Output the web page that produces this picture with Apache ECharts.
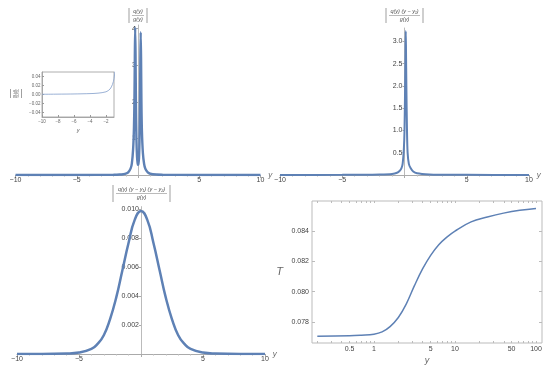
<!DOCTYPE html>
<html><head><meta charset="utf-8">
<script src="https://cdn.jsdelivr.net/npm/echarts@6/dist/echarts.min.js"></script>
<style>html,body{margin:0;padding:0;background:#fff}#c{width:550px;height:372px}</style>
</head><body><div id="c"></div>
<script>
// Panel 1: |q(y)/g(y)|
const p1X = [-10,-8,-6,-4,-3,-2,-1.5,-1.2,-1,-0.8,-0.6,-0.5,-0.4,-0.33,-0.29,-0.26,-0.23,-0.2,-0.17,-0.13,-0.08,-0.03,0,0.03,0.08,0.12,0.16,0.19,0.22,0.25,0.28,0.32,0.4,0.5,0.6,0.8,1,1.5,2,3,4,6,8,10];
const p1Y = [0.0005,0.0008,0.0012,0.002,0.003,0.006,0.012,0.022,0.035,0.07,0.18,0.32,0.7,1.3,2.1,3.2,4.03,3.3,2.0,1.0,0.5,0.32,0.28,0.3,0.45,0.9,1.9,3.1,3.9,3.2,2.0,1.2,0.6,0.3,0.17,0.07,0.035,0.012,0.006,0.003,0.002,0.0012,0.0008,0.0005];
const p1Ticks = [1,2,3,4];
const insetYTicks = [-0.04,-0.02,0,0.02,0.04];
// Panel 2: |q(y)(y-y1)/g(y)|
const p2X = [-10,-5,-3,-2,-1,-0.6,-0.4,-0.25,-0.15,-0.05,0,0.05,0.08,0.1,0.12,0.15,0.2,0.25,0.35,0.5,0.7,1,2,3,5,10];
const p2Y = [0.001,0.003,0.006,0.01,0.025,0.05,0.09,0.15,0.25,0.6,1.0,2.0,2.8,3.23,2.8,2.0,1.0,0.5,0.25,0.15,0.08,0.04,0.012,0.006,0.003,0.001];
const p2Ticks = [0.5,1,1.5,2,2.5,3];
// Panel 3: |q(y)(y-y1)(y-y2)/g(y)|
const p3X = [-10,-8,-6,-5,-4,-3.5,-3,-2.5,-2,-1.5,-1,-0.5,0,0.5,1,1.5,2,2.5,3,3.5,4,5,6,8,10];
const p3Y = [0,0,0.00003,0.0001,0.00035,0.0007,0.0013,0.0024,0.0039,0.0058,0.0077,0.0093,0.0099,0.0093,0.0077,0.0058,0.0039,0.0024,0.0013,0.0007,0.00035,0.0001,0.00003,0,0];
const p3Ticks = [0.002,0.004,0.006,0.008,0.010];
// Panel 4: T vs y (log)
const p4X = [0.2,0.5,0.7,1,1.26,1.58,2,2.51,3.16,3.98,5.01,6.31,7.94,10,15.8,25.1,39.8,63.1,100];
const p4Y = [0.07707,0.07709,0.07713,0.0772,0.07735,0.0777,0.0783,0.0792,0.0804,0.0815,0.0824,0.0831,0.0836,0.0840,0.0846,0.08492,0.08518,0.08537,0.08549];
const p4XLabels = [0.5,1,5,10,50,100];
const p4XMinor = [0.2,0.3,0.4,0.5,0.6,0.7,0.8,0.9,1,2,3,4,5,6,7,8,9,10,20,30,40,50,60,70,80,90,100];
const p4YTicks = [0.078,0.080,0.082,0.084];

const zip = (a,b)=>a.map((v,i)=>[v,b[i]]);
const BLUE = '#5E81B5';
const FONT = 'Liberation Sans';
const minus = s => String(s).replace('-', '\u2212');
const lab = {fontSize:7, color:'#444', fontFamily:FONT};
const XMIN = -10, XMAX = 10;

const grids = [
  {left:15.5, top:25, width:245, height:150},
  {left:42, top:72, width:72, height:45, show:true, borderColor:'#999', borderWidth:0.8, backgroundColor:'#fff', z:5},
  {left:280, top:28, width:249, height:147},
  {left:17, top:206.6, width:248, height:147.4},
  {left:312, top:201, width:230, height:142, show:true, borderColor:'#bbb', borderWidth:1}
];

function axX(grid, extra){
  return Object.assign({
    type:'value', gridIndex:grid, min:XMIN, max:XMAX, interval:5,
    axisLine:{onZero:false, lineStyle:{color:'#aaa', width:1}},
    axisTick:{show:true, length:3, lineStyle:{color:'#aaa'}},
    minorTick:{show:true, splitNumber:5, length:1.5, lineStyle:{color:'#bbb'}},
    splitLine:{show:false},
    axisLabel:Object.assign({}, lab, {margin:2, formatter:v=> v===0 ? '' : minus(v)}),
    name:'y', nameLocation:'end', nameGap:3,
    nameTextStyle:{fontSize:8, color:'#666', fontStyle:'italic', fontFamily:FONT}
  }, extra||{});
}
// y axis crossing the x axis at x = 0
function axY(grid, max, ticks, dec){
  const zeroShift = grids[grid].width * (0 - XMIN) / (XMAX - XMIN);
  return {
    type:'value', gridIndex:grid, min:0, max:max, offset:-zeroShift,
    axisLine:{show:true, onZero:true, onZeroAxisIndex:grid, lineStyle:{color:'#bbb', width:1}},
    axisTick:{show:true, length:2, customValues:ticks, lineStyle:{color:'#aaa'}},
    splitLine:{show:false},
    axisLabel:Object.assign({}, lab, {margin:2, customValues:ticks, formatter:v=> v.toFixed(dec)})
  };
}

function absFrac(cx, top, bottom, num, den, halfW, fs){
  const mid = (top+bottom)/2;
  const st = {stroke:'#777', lineWidth:0.7};
  return {type:'group', silent:true, children:[
    {type:'line', shape:{x1:cx-halfW, y1:top, x2:cx-halfW, y2:bottom}, style:st},
    {type:'line', shape:{x1:cx+halfW, y1:top, x2:cx+halfW, y2:bottom}, style:st},
    {type:'line', shape:{x1:cx-halfW+3, y1:mid, x2:cx+halfW-3, y2:mid}, style:{stroke:'#777', lineWidth:0.5}},
    {type:'text', style:{text:num, x:cx, y:mid-0.8, align:'center', verticalAlign:'bottom', fontSize:fs, fontFamily:FONT, fontStyle:'italic', fill:'#555'}},
    {type:'text', style:{text:den, x:cx, y:mid+0.8, align:'center', verticalAlign:'top', fontSize:fs, fontFamily:FONT, fontStyle:'italic', fill:'#555'}}
  ]};
}

const chart = echarts.init(document.getElementById('c'), null, {renderer:'canvas'});
const logLabelFmt = v => { const r = Math.round(v*1000)/1000; return String(r); };

chart.setOption({
  animation:false,
  backgroundColor:'#fff',
  grid:grids,
  xAxis:[
    axX(0),
    {type:'value', gridIndex:1, min:-10, max:-1, interval:2,
      axisLine:{onZero:false, lineStyle:{color:'#999', width:0.8}},
      axisTick:{inside:true, length:2, customValues:[-10,-8,-6,-4,-2], lineStyle:{color:'#999'}},
      splitLine:{show:false},
      axisLabel:{fontSize:4.5, color:'#666', fontFamily:FONT, margin:2, customValues:[-10,-8,-6,-4,-2], formatter:v=>minus(v)},
      name:'y', nameLocation:'middle', nameGap:10,
      nameTextStyle:{fontSize:5.5, color:'#666', fontStyle:'italic', fontFamily:FONT}, z:6},
    axX(2),
    axX(3),
    {type:'log', gridIndex:4, min:0.172, max:118.6, logBase:10,
      axisLine:{show:false},
      axisTick:{inside:true, length:2, customValues:p4XMinor, lineStyle:{color:'#bbb'}},
      splitLine:{show:false}, minorTick:{show:false},
      axisLabel:Object.assign({}, lab, {margin:3, customValues:p4XLabels, formatter:logLabelFmt}),
      name:'y', nameLocation:'middle', nameGap:13,
      nameTextStyle:{fontSize:9, color:'#666', fontStyle:'italic', fontFamily:FONT}},
    {type:'log', gridIndex:4, position:'top', min:0.172, max:118.6, logBase:10,
      axisLine:{show:false},
      axisTick:{inside:true, length:2, customValues:p4XMinor, lineStyle:{color:'#bbb'}},
      splitLine:{show:false}, axisLabel:{show:false}}
  ],
  yAxis:[
    axY(0, 4.1, p1Ticks, 0),
    {type:'value', gridIndex:1, min:-0.05, max:0.05,
      axisLine:{onZero:false, lineStyle:{color:'#999', width:0.8}},
      axisTick:{inside:true, length:2, customValues:insetYTicks, lineStyle:{color:'#999'}},
      splitLine:{show:false},
      axisLabel:{fontSize:4.5, color:'#666', fontFamily:FONT, margin:1.5, customValues:insetYTicks, formatter:v=>minus(v.toFixed(2))}, z:6},
    axY(2, 3.3, p2Ticks, 1),
    axY(3, 0.0102, p3Ticks, 3),
    {type:'value', gridIndex:4, min:0.07662, max:0.08598,
      axisLine:{show:false},
      axisTick:{inside:true, length:3, customValues:p4YTicks, lineStyle:{color:'#bbb'}},
      splitLine:{show:false},
      axisLabel:Object.assign({}, lab, {margin:3, customValues:p4YTicks, formatter:v=>v.toFixed(3)}),
      name:'T', nameLocation:'middle', nameRotate:0, nameGap:29,
      nameTextStyle:{fontSize:11, color:'#666', fontStyle:'italic', fontFamily:FONT}},
    {type:'value', gridIndex:4, position:'right', min:0.07662, max:0.08598,
      axisLine:{show:false},
      axisTick:{inside:true, length:3, customValues:p4YTicks, lineStyle:{color:'#bbb'}},
      splitLine:{show:false}, axisLabel:{show:false}}
  ],
  series:[
    {type:'line', xAxisIndex:0, yAxisIndex:0, data:zip(p1X,p1Y), showSymbol:false, smooth:0.3, lineStyle:{color:BLUE, width:2.4}, z:3},
    {type:'line', xAxisIndex:1, yAxisIndex:1, data:zip(p1X,p1Y), showSymbol:false, smooth:0.3, lineStyle:{color:'#8fa8d0', width:0.9}, z:7},
    {type:'line', xAxisIndex:2, yAxisIndex:2, data:zip(p2X,p2Y), showSymbol:false, smooth:0.3, lineStyle:{color:BLUE, width:2}, z:3},
    {type:'line', xAxisIndex:3, yAxisIndex:3, data:zip(p3X,p3Y), showSymbol:false, smooth:0.5, lineStyle:{color:BLUE, width:2.5}, z:3},
    {type:'line', xAxisIndex:4, yAxisIndex:4, data:zip(p4X,p4Y), showSymbol:false, smooth:0.4, lineStyle:{color:BLUE, width:1.5}}
  ],
  graphic:[
    absFrac(138, 8, 23, 'q(y)', 'g(y)', 9, 5.5),
    absFrac(404.5, 8, 23, 'q(y) (y \u2212 y\u2081)', 'g(y)', 18.5, 5.5),
    absFrac(141.5, 185, 202, 'q(y) (y \u2212 y\u2081) (y \u2212 y\u2082)', 'g(y)', 28.5, 5.5),
    absFrac(16, 89, 98, 'q(y)', 'g(y)', 5.5, 3.5)
  ]
});
</script></body></html>
